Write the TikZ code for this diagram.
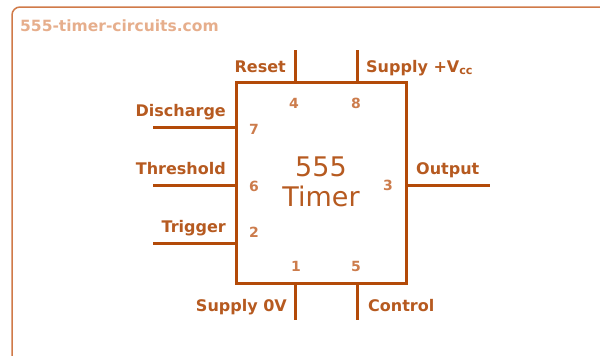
\documentclass[tikz,border=0pt]{standalone}
\usepackage{fontspec}
\setmainfont{DejaVu Sans}
\usepackage{xcolor}
\usetikzlibrary{positioning,calc}

\definecolor{chipcol}{HTML}{B34A08}
\definecolor{labcol}{HTML}{B65A20}
\definecolor{pincol}{HTML}{CC7C4C}
\definecolor{framecol}{HTML}{D07A48}
\definecolor{webcol}{HTML}{E6AE8C}

\begin{document}
\begin{tikzpicture}[
  x=1pt, y=-1pt,
  chip/.style={draw=chipcol, line width=3pt, minimum width=170pt,
    minimum height=201pt, inner sep=0pt},
  lead/.style={draw=chipcol, line width=3pt},
  lab/.style={text=labcol, font=\bfseries\fontsize{16}{19}\selectfont, inner sep=0pt},
  pinno/.style={text=pincol, font=\bfseries\fontsize{14}{16}\selectfont, inner sep=0pt},
  title/.style={text=labcol, font=\fontsize{27}{30}\selectfont, align=center,
    inner sep=0pt}
]
  \useasboundingbox (0,0) rectangle (600,356);
  % outer frame
  \draw[framecol, line width=1.5pt, rounded corners=8pt] (12,7) rectangle (612,368);
  \node[text=webcol, font=\bfseries\fontsize{15.5}{18}\selectfont, anchor=base west,
    inner sep=0pt] (web) at (20,31.5) {555-timer-circuits.com};

  % the chip
  \node[chip] (ic) at (321,182.5) {};
  \node[title] (name) at (321,182) {555\\Timer};

  % lead ends on the chip and free ends
  \coordinate (p4) at (295,82);   \coordinate (e4) at (295,50);
  \coordinate (p8) at (357,82);   \coordinate (e8) at (357,50);
  \coordinate (p7) at (236,127);  \coordinate (e7) at (153,127);
  \coordinate (p6) at (236,185);  \coordinate (e6) at (153,185);
  \coordinate (p2) at (236,243);  \coordinate (e2) at (153,243);
  \coordinate (p3) at (406,185);  \coordinate (e3) at (490,185);
  \coordinate (p1) at (295,283);  \coordinate (e1) at (295,320);
  \coordinate (p5) at (357,283);  \coordinate (e5) at (357,320);

  \foreach \n in {4,8,7,6,2,3,1,5}
    \draw[lead] (p\n) -- (e\n);

  % pin labels
  \node[lab, anchor=base east] (reset) at (286,72) {Reset};
  \node[lab, anchor=base west] (vcc) at (366,72) {Supply +V\textsubscript{cc}};
  \node[lab, anchor=base east] (dis) at (226,116) {Discharge};
  \node[lab, anchor=base east] (thr) at (226,174) {Threshold};
  \node[lab, anchor=base east] (trg) at (226,232) {Trigger};
  \node[lab, anchor=base west] (out) at (416,174) {Output};
  \node[lab, anchor=base east] (gnd) at (287,311) {Supply 0V};
  \node[lab, anchor=base west] (ctl) at (368,311) {Control};

  % pin numbers
  \node[pinno] (n4) at (294,103) {4};
  \node[pinno] (n8) at (356,103) {8};
  \node[pinno] (n7) at (254,129) {7};
  \node[pinno] (n6) at (254,186) {6};
  \node[pinno] (n2) at (254,232) {2};
  \node[pinno] (n3) at (388,185) {3};
  \node[pinno] (n1) at (296,266) {1};
  \node[pinno] (n5) at (356,266) {5};
\end{tikzpicture}
\end{document}
